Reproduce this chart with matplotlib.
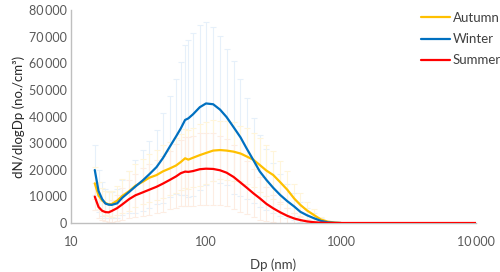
import matplotlib
matplotlib.use("Agg")
import matplotlib.pyplot as plt
from matplotlib.ticker import FuncFormatter, FixedLocator, NullLocator

plt.rcParams['font.family'] = ['Lato', 'DejaVu Sans']

dp = [15, 16, 17, 18, 19, 20, 22, 24, 27, 30, 34, 38, 43, 48, 54, 60, 65, 70, 74, 80,
      90, 100, 113, 127, 142, 160, 180, 200, 225, 250, 280, 315, 355, 400, 450, 500,
      560, 630, 710, 800, 900, 1000]

winter = [19900, 12000, 9000, 7300, 6900, 6800, 7400, 9500, 11700, 13700, 16000, 18300,
          21000, 24400, 28700, 32500, 35500, 38700, 39300, 40800, 43500, 44900, 44600,
          42600, 39800, 36000, 32200, 28000, 23500, 19400, 16200, 13200, 10500, 8200,
          6200, 4200, 2900, 1800, 800, 250, 80, 0]
winter_sd = [9400, 8000, 6500, 5500, 5000, 5000, 5500, 6500, 8000, 10000, 11500, 12500,
             14000, 17000, 19000, 21500, 25000, 28000, 29500, 30500, 31000, 30500, 29000,
             27500, 25500, 25000, 22000, 19000, 16000, 13500, 11500, 9500, 8000, 6500,
             5000, 3800, 2800, 1800, 900, 400, 150, 0]

autumn = [14900, 10300, 8500, 7500, 7000, 7100, 8400, 10200, 12000, 14000, 15500, 17000,
          18000, 19400, 20500, 21600, 22900, 24300, 23800, 24500, 25500, 26300, 27200,
          27400, 27200, 26800, 26100, 25000, 23700, 21800, 19700, 18000, 15300, 12500,
          9200, 6800, 4700, 3000, 1300, 500, 150, 0]
autumn_sd = [6000, 5000, 4500, 4500, 4500, 5000, 5500, 6500, 7500, 8000, 8500, 9000,
             9500, 10000, 10000, 10500, 10500, 11000, 11000, 11000, 11500, 11500, 11500,
             11000, 11000, 11000, 10500, 10500, 10000, 10000, 9500, 9000, 8000, 7000,
             5500, 4500, 3200, 2200, 1000, 400, 100, 0]

summer = [9900, 6000, 4600, 4100, 4000, 4500, 5600, 7000, 9000, 10400, 11500, 12500,
          13600, 14800, 16200, 17500, 18700, 19300, 19200, 19500, 20200, 20400, 20300,
          19800, 18900, 17300, 15200, 13300, 11100, 9300, 7200, 5500, 4000, 2700,
          1700, 1100, 600, 300, 100, 30, 0, 0]
summer_sd = [5000, 4000, 3500, 3500, 3500, 4000, 5000, 6000, 7000, 8000, 9000, 9500,
             10000, 10500, 11000, 12000, 12500, 13000, 13000, 13000, 13500, 13500, 13500,
             13000, 12500, 12000, 11000, 10000, 9000, 8000, 6500, 5000, 4000, 3000,
             2000, 1500, 900, 500, 200, 80, 0, 0]

tail_dp = [1500, 2500, 4000, 6500, 10000]
summer_tail = [0, 0, 0, 0, 0]

series = [
    ("Autumn", autumn, autumn_sd, "#FFC000", "#FFF5DA"),
    ("Winter", winter, winter_sd, "#0070C0", "#E6F0FA"),
    ("Summer", summer, summer_sd, "#FF0000", "#FDEDE3"),
]

fig = plt.figure(figsize=(5.0, 2.72), dpi=100)
ax = fig.add_axes([71/500, 1 - 223/272, (476 - 71)/500, (223 - 10)/272])

# error bars (faint)
for name, vals, sd, col, ecol in [series[1], series[0], series[2]]:
    ax.errorbar(dp, vals, yerr=sd, fmt='none', ecolor=ecol, elinewidth=0.8,
                capsize=2.5, capthick=0.8, zorder=1)

for name, vals, sd, col, ecol in series:
    if name == "Summer":
        xs = dp + tail_dp
        ys = vals + summer_tail
    else:
        xs = dp
        ys = vals
    ax.plot(xs, ys, color=col, lw=1.6, label=name, zorder=3 if name != "Summer" else 4,
            solid_capstyle='round')

ax.set_xscale('log')
ax.set_xlim(10, 10000)
ax.set_ylim(0, 80000)
ax.xaxis.set_major_locator(FixedLocator([10, 100, 1000, 10000]))
ax.xaxis.set_minor_locator(NullLocator())
ax.yaxis.set_major_locator(FixedLocator(list(range(0, 80001, 10000))))


def fmt(v, pos):
    v = int(round(v))
    if v >= 10000:
        s = f"{v:,}".replace(",", "\u2009")
        return s
    return str(v)


ax.xaxis.set_major_formatter(FuncFormatter(fmt))
ax.yaxis.set_major_formatter(FuncFormatter(fmt))

for s in ['top', 'right']:
    ax.spines[s].set_visible(False)
for s in ['left', 'bottom']:
    ax.spines[s].set_color('#BFBFBF')
    ax.spines[s].set_linewidth(1.0)

ax.tick_params(axis='both', length=0, labelsize=9, colors='#595959')
ax.tick_params(axis='y', pad=3)
ax.tick_params(axis='x', pad=9)

ax.set_xlabel("Dp (nm)", fontsize=9.5, color='#404040', labelpad=8)
ax.set_ylabel("dN/dlogDp (no./cm³)", fontsize=9.5, color='#262626', labelpad=3)

leg = ax.legend(loc='upper left', bbox_to_anchor=(421/500, 1 - 12/272),
                bbox_transform=fig.transFigure, frameon=False, fontsize=9.5,
                handlelength=2.2, handletextpad=0.2, labelspacing=0.7,
                borderpad=0, borderaxespad=0)
for t in leg.get_texts():
    t.set_color('#404040')

fig.savefig("out.png", dpi=100)
